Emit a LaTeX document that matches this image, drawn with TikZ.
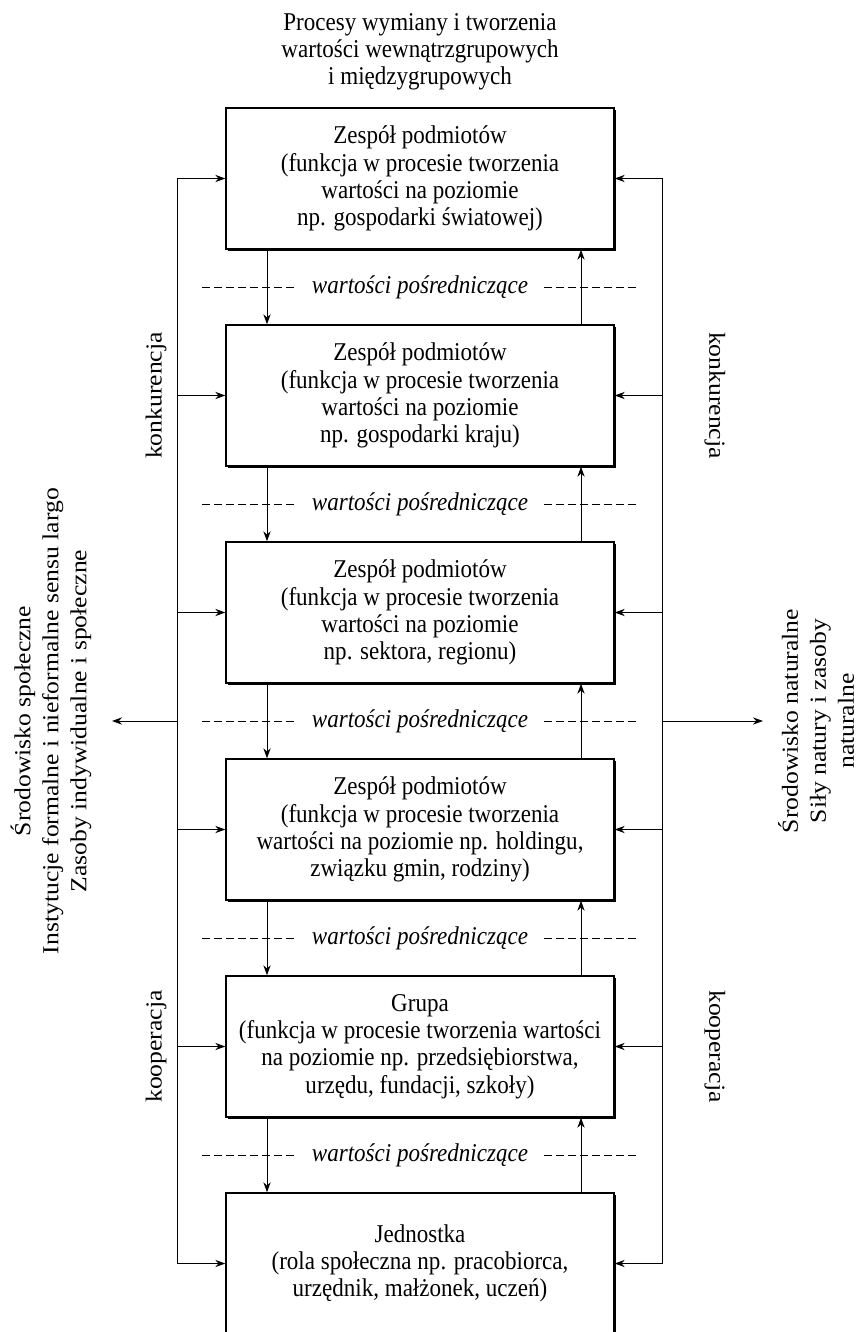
\documentclass[tikz,border=0pt]{standalone}
\usepackage{fontspec}
\setmainfont{Liberation Serif}
\newfontfamily\hfont{Liberation Serif}[FakeStretch=0.9]
\newfontfamily\vfont{Liberation Serif}[FakeStretch=1.115]
\usetikzlibrary{arrows.meta, shadows}

\begin{document}
\begin{tikzpicture}[x=0.5pt, y=-0.5pt,
    txt/.style={font=\hfont\fontsize{12.8pt}{13.6pt}\selectfont, align=center, inner sep=0pt},
    vtxt/.style={font=\vfont\fontsize{11.5pt}{14pt}\selectfont, align=center, inner sep=0pt},
    box/.style={txt, draw, line width=0.7pt, fill=white,
                minimum width=194pt, minimum height=70.5pt,
                drop shadow={shadow xshift=1.1pt, shadow yshift=-1.1pt, fill=black, opacity=1}},
    mid/.style={txt, font=\hfont\itshape\fontsize{12.8pt}{13.6pt}\selectfont, inner xsep=8pt},
    arr/.style={-{Stealth[length=5pt,width=3.6pt,inset=1.6pt]}, line width=0.5pt},
    dsh/.style={dash pattern=on 4pt off 2pt, line width=0.5pt}]

    \useasboundingbox (0,0) rectangle (863,1332);

    % Title
    \node[txt] (title) at (420,52) {Procesy wymiany i tworzenia\\wartości wewnątrzgrupowych\\i międzygrupowych};

    % Levels
    \foreach \i/\btext in {1/{Zespół podmiotów\\(funkcja w procesie tworzenia\\wartości na poziomie\\np. gospodarki światowej)},
                           2/{Zespół podmiotów\\(funkcja w procesie tworzenia\\wartości na poziomie\\np. gospodarki kraju)},
                           3/{Zespół podmiotów\\(funkcja w procesie tworzenia\\wartości na poziomie\\np. sektora, regionu)},
                           4/{Zespół podmiotów\\(funkcja w procesie tworzenia\\wartości na poziomie np. holdingu,\\związku gmin, rodziny)},
                           5/{Grupa\\(funkcja w procesie tworzenia wartości\\na poziomie np. przedsiębiorstwa,\\urzędu, fundacji, szkoły)},
                           6/{Jednostka\\(rola społeczna np. pracobiorca,\\urzędnik, małżonek, uczeń)}}
      \node[box] (B\i) at (420,{178.5+217*(\i-1)}) {\btext};

    % Intermediate values
    \coordinate (dL) at (202,0);
    \coordinate (dR) at (637,0);
    \foreach \i in {1,...,5}{
      \node[mid] (V\i) at (420,{287+217*(\i-1)}) {wartości pośredniczące};
      \draw[dsh] (V\i.west -| dL) -- (V\i.west);
      \draw[dsh] (V\i.east) -- (V\i.east -| dR);
    }

    % Flows between levels
    \coordinate (dn) at (267,0);
    \coordinate (up) at (581,0);
    \foreach \i [count=\j from 2] in {1,...,5}{
      \draw[arr] (B\i.south -| dn) -- (B\j.north -| dn);
      \draw[arr] (B\j.north -| up) -- (B\i.south -| up);
    }

    % Side lines
    \coordinate (lft) at (177,0);
    \coordinate (rgt) at (662,0);
    \draw[line width=0.5pt] (B1.west -| lft) -- (B6.west -| lft);
    \draw[line width=0.5pt] (B1.east -| rgt) -- (B6.east -| rgt);
    \foreach \i in {1,...,6}{
      \draw[arr] (B\i.west -| lft) -- (B\i.west);
      \draw[arr] (B\i.east -| rgt) -- (B\i.east);
    }

    \node[vtxt, rotate=90] (konL) at (156,395.5) {konkurencja};
    \node[vtxt, rotate=-90] (konR) at (715,395.5) {konkurencja};
    \node[vtxt, rotate=90] (koopL) at (156,1046.5) {kooperacja};
    \node[vtxt, rotate=-90] (koopR) at (715,1046.5) {kooperacja};

    % Environments
    \node[vtxt, rotate=90] (socEnv) at (51,721) {Środowisko społeczne\\Instytucje formalne i nieformalne sensu largo\\Zasoby indywidualne i społeczne};
    \node[vtxt, rotate=90] (natEnv) at (816,721) {Środowisko naturalne\\Siły natury i zasoby\\naturalne};
    \coordinate (socTip) at (112,721);
    \coordinate (natTip) at (763,721);
    \draw[arr] (V3 -| lft) -- (socTip);
    \draw[arr] (V3 -| rgt) -- (natTip);
\end{tikzpicture}
\end{document}
